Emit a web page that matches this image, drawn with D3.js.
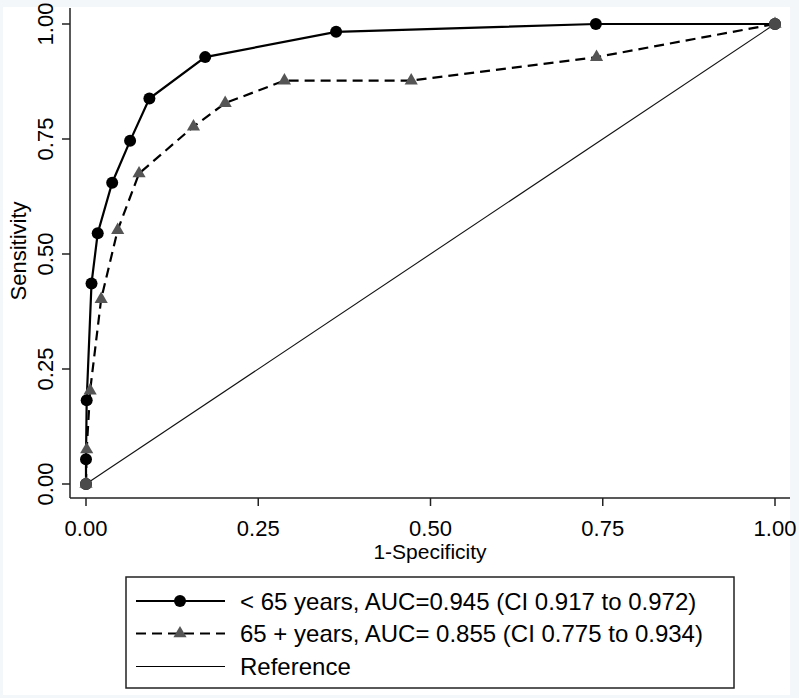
<!DOCTYPE html>
<html><head><meta charset="utf-8">
<script src="https://cdn.jsdelivr.net/npm/d3@7"></script>
<style>body{margin:0;background:#f4f7f9}svg{display:block}text{font-family:"Liberation Sans",Arial,sans-serif;fill:#000}</style>
</head><body>
<script>
const ticks = [0, 0.25, 0.5, 0.75, 1];
const tickLabels = ["0.00", "0.25", "0.50", "0.75", "1.00"];
const under65X = [0, 0, 0.001, 0.008, 0.017, 0.038, 0.064, 0.092, 0.173, 0.363, 0.740, 1];
const under65Y = [0, 0.054, 0.182, 0.436, 0.545, 0.655, 0.746, 0.838, 0.928, 0.983, 1.0, 1.0];
const over65X = [0, 0.001, 0.006, 0.022, 0.046, 0.077, 0.156, 0.202, 0.288, 0.472, 0.741, 1];
const over65Y = [0, 0.075, 0.203, 0.402, 0.552, 0.675, 0.777, 0.828, 0.877, 0.877, 0.928, 1];
const refX = [0, 1];
const refY = [0, 1];
const legendLabels = ["< 65 years, AUC=0.945 (CI 0.917 to 0.972)", "65 + years, AUC= 0.855 (CI 0.775 to 0.934)", "Reference"];

const W = 799, H = 698;
const svg = d3.select("body").append("svg").attr("width", W).attr("height", H);
svg.append("rect").attr("x", 3).attr("y", 7).attr("width", 787).attr("height", 688).attr("fill", "#fff");

const x = d3.scaleLinear().domain([0, 1]).range([86, 775]);
const y = d3.scaleLinear().domain([0, 1]).range([484, 24]);

// axes
const axL = 70, axB = 498;
const ax = svg.append("g").attr("stroke", "#222").attr("stroke-width", 1.5);
ax.append("line").attr("x1", axL).attr("x2", axL).attr("y1", 8).attr("y2", axB);
ax.append("line").attr("x1", axL).attr("x2", 790).attr("y1", axB).attr("y2", axB);
ticks.forEach((t, i) => {
  ax.append("line").attr("x1", axL - 8).attr("x2", axL).attr("y1", y(t)).attr("y2", y(t));
  ax.append("line").attr("x1", x(t)).attr("x2", x(t)).attr("y1", axB).attr("y2", axB + 8);
  svg.append("text").attr("transform", `translate(53,${y(t)}) rotate(-90)`)
    .attr("text-anchor", "middle").attr("font-size", 22).text(tickLabels[i]);
  svg.append("text").attr("x", x(t)).attr("y", 536).attr("text-anchor", "middle")
    .attr("font-size", 22).text(tickLabels[i]);
});
svg.append("text").attr("x", 430).attr("y", 559).attr("text-anchor", "middle").attr("font-size", 21).text("1-Specificity");
svg.append("text").attr("transform", "translate(26,251) rotate(-90)").attr("text-anchor", "middle").attr("font-size", 22).text("Sensitivity");

const line = d3.line().x(d => x(d[0])).y(d => y(d[1]));
const s1 = under65X.map((v, i) => [v, under65Y[i]]);
const s2 = over65X.map((v, i) => [v, over65Y[i]]);
const sr = refX.map((v, i) => [v, refY[i]]);

svg.append("path").datum(sr).attr("d", line).attr("fill", "none").attr("stroke", "#111").attr("stroke-width", 1.1);
svg.append("path").datum(s2).attr("d", line).attr("fill", "none").attr("stroke", "#000").attr("stroke-width", 2.2).attr("stroke-dasharray", "10,6");
svg.append("path").datum(s1).attr("d", line).attr("fill", "none").attr("stroke", "#000").attr("stroke-width", 2.2);

const tri = d3.symbol().type(d3.symbolTriangle).size(75);
svg.selectAll(".c1").data(s1).join("circle").attr("cx", d => x(d[0])).attr("cy", d => y(d[1])).attr("r", 6).attr("fill", "#000");
svg.selectAll(".t2").data(s2).join("path").attr("d", tri).attr("transform", d => `translate(${x(d[0])},${y(d[1])})`).attr("fill", "#555");
// shared end points drawn grey
svg.selectAll(".e").data(sr).join("circle").attr("cx", d => x(d[0])).attr("cy", d => y(d[1])).attr("r", 6).attr("fill", "#4a4a4a");

// legend
const lg = svg.append("g");
lg.append("rect").attr("x", 126).attr("y", 577).attr("width", 608).attr("height", 111).attr("fill", "#fff").attr("stroke", "#222").attr("stroke-width", 1.5);
const rows = [601, 633.5, 666.5];
rows.forEach((ry, i) => {
  const l = lg.append("line").attr("x1", 136).attr("x2", 225).attr("y1", ry).attr("y2", ry).attr("stroke", "#000");
  if (i === 0) { l.attr("stroke-width", 2.2); lg.append("circle").attr("cx", 180).attr("cy", ry).attr("r", 6).attr("fill", "#000"); }
  if (i === 1) { l.attr("stroke-width", 2.2).attr("stroke-dasharray", "10,6"); lg.append("path").attr("d", tri).attr("transform", `translate(180,${ry})`).attr("fill", "#555"); }
  if (i === 2) { l.attr("stroke-width", 1.1); }
  lg.append("text").attr("x", 240).attr("y", ry + 8.5).attr("font-size", 24).text(legendLabels[i]);
});
</script>
</body></html>
